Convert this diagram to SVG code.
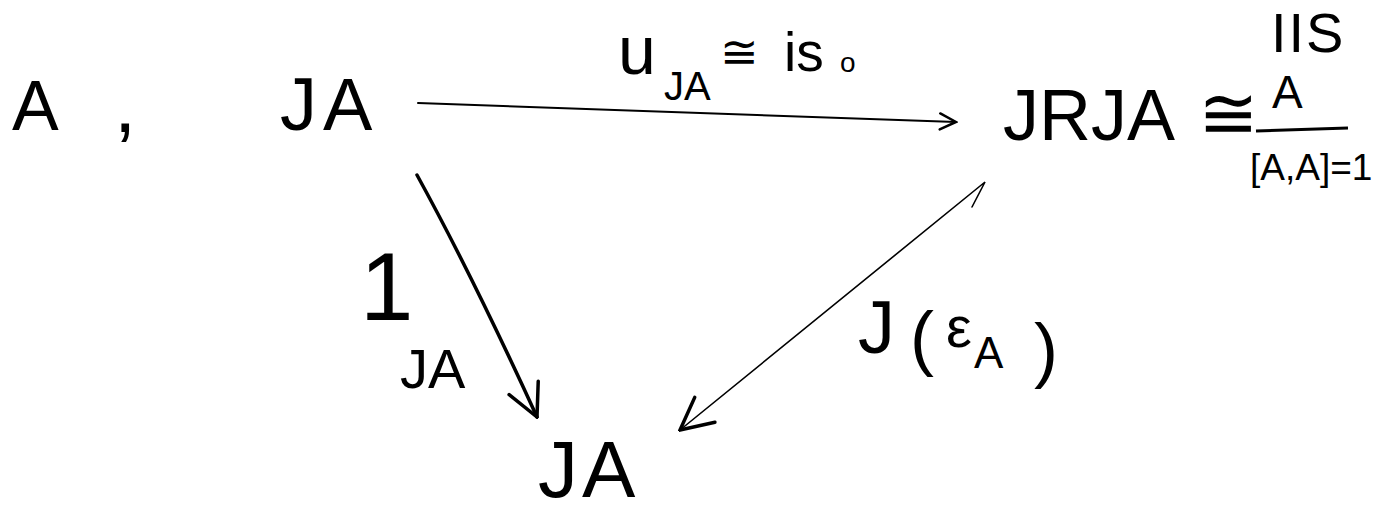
<svg xmlns="http://www.w3.org/2000/svg" width="1385" height="517" viewBox="0 0 1385 517">
  <style>
    text { font-family: "Liberation Sans", "DejaVu Sans", sans-serif; fill: #000; }
    .edge { fill: none; stroke: #000; stroke-linecap: round; }
  </style>
  <defs>
    <marker id="head" viewBox="0 0 20 20" refX="18" refY="10" markerWidth="20" markerHeight="20" markerUnits="userSpaceOnUse" orient="auto">
      <path d="M2,2 L18,10 L2,18" fill="none" stroke="#000" stroke-width="2.5" stroke-linecap="round"/>
    </marker>
    <marker id="headBig" viewBox="0 0 40 40" refX="38" refY="20" markerWidth="40" markerHeight="40" markerUnits="userSpaceOnUse" orient="auto">
      <path d="M6,4 L38,20 L6,36" fill="none" stroke="#000" stroke-width="3.5" stroke-linecap="round"/>
    </marker>
  </defs>
  <rect width="1385" height="517" fill="#fff"/>

  <g id="node-A">
    <text x="12" y="130" font-size="70">A</text>
    <text x="114" y="132" font-size="80">,</text>
  </g>

  <g id="node-JA-top">
    <text x="280" y="130" font-size="74" letter-spacing="6">JA</text>
  </g>

  <g id="node-JRJA">
    <text x="1003" y="140" font-size="72">JRJA</text>
    <text x="1198" y="138" font-size="72">≅</text>
    <text x="1271" y="52" font-size="56" letter-spacing="2">IIS</text>
    <text x="1272" y="108" font-size="46">A</text>
    <path d="M1256,131 L1348,128" stroke="#000" stroke-width="3" fill="none"/>
    <text x="1250" y="180" font-size="37">[A,A]=1</text>
  </g>

  <g id="node-JA-bottom">
    <text x="538" y="497" font-size="80" letter-spacing="4">JA</text>
  </g>

  <g id="connectors">
    <path class="edge" d="M418,103 L956,122" stroke-width="2" marker-end="url(#head)"/>
    <path class="edge" d="M417,175 Q472,275 537,417" stroke-width="3.5" marker-end="url(#headBig)"/>
    <path class="edge" d="M972,207 L985,182 L680,430" stroke-width="1.6" marker-end="url(#headBig)"/>

    <g id="label-u">
      <text x="618" y="74" font-size="68">u</text>
      <text x="664" y="100" font-size="40">JA</text>
      <text x="720" y="68" font-size="46">≅</text>
      <text x="784" y="71" font-size="55">is</text>
      <text x="840" y="72" font-size="28">o</text>
    </g>
    <g id="label-1">
      <text x="360" y="320" font-size="96">1</text>
      <text x="400" y="388" font-size="56">JA</text>
    </g>
    <g id="label-J-eps">
      <text x="858" y="353" font-size="74">J</text>
      <text x="910" y="362" font-size="72">(</text>
      <text x="946" y="347" font-size="58">ε</text>
      <text x="974" y="368" font-size="44">A</text>
      <text x="1034" y="374" font-size="72">)</text>
    </g>
  </g>
</svg>
